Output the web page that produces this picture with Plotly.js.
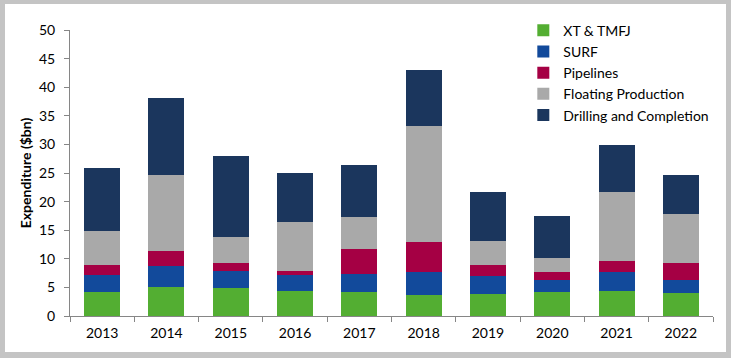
<!DOCTYPE html>
<html>
<head>
<meta charset="utf-8">
<script src="https://cdn.plot.ly/plotly-3.0.1.min.js"></script>
<style>
  html, body { margin: 0; padding: 0; background: #c4c4c4; width: 731px; height: 358px; overflow: hidden; }
  #chart { position: absolute; left: 5px; top: 4px; width: 721px; height: 348px; background: #ffffff; }
</style>
</head>
<body>
<div id="chart"></div>
<script>
const years = ["2013", "2014", "2015", "2016", "2017", "2018", "2019", "2020", "2021", "2022"];
const xtTmfj = [4.2, 5.05, 4.9, 4.4, 4.2, 3.65, 3.85, 4.2, 4.35, 4.0];
const surf = [2.95, 3.7, 2.95, 2.75, 3.2, 4.05, 3.2, 2.15, 3.3, 2.3];
const pipelines = [1.75, 2.55, 1.45, 0.7, 4.3, 5.2, 1.85, 1.35, 1.9, 2.9];
const floatingProduction = [5.9, 13.4, 4.45, 8.55, 5.6, 20.4, 4.2, 2.45, 12.2, 8.7];
const drillingCompletion = [11.0, 13.4, 14.3, 8.55, 9.05, 9.75, 8.55, 7.3, 8.2, 6.8];
const yTicks = [0, 5, 10, 15, 20, 25, 30, 35, 40, 45, 50];

const seriesNames = ["XT & TMFJ", "SURF", "Pipelines", "Floating Production", "Drilling and Completion"];
const seriesValues = [xtTmfj, surf, pipelines, floatingProduction, drillingCompletion];
const seriesColors = ["#53ae32", "#124a9b", "#a50044", "#a9a9a9", "#1b365d"];

const data = seriesNames.map((name, i) => ({
  type: "bar",
  name: name,
  x: years,
  y: seriesValues[i],
  marker: { color: seriesColors[i], line: { width: 0 } },
  hoverinfo: "x+y+name"
}));

const axisColor = "#868686";
const font = { family: "Lato, 'Open Sans', sans-serif", size: 14, color: "#000000" };

const layout = {
  width: 721,
  height: 348,
  margin: { l: 65, r: 13, t: 25, b: 36 },
  paper_bgcolor: "#ffffff",
  plot_bgcolor: "#ffffff",
  barmode: "stack",
  bargap: 0.44,
  font: font,
  showlegend: true,
  legend: {
    traceorder: "normal",
    x: 0.705,
    y: 1.05,
    xanchor: "left",
    yanchor: "top",
    bgcolor: "rgba(0,0,0,0)",
    font: { family: font.family, size: 14, color: "#000000" },
    itemwidth: 30
  },
  xaxis: {
    type: "category",
    showline: true,
    linecolor: axisColor,
    linewidth: 1,
    ticks: "outside",
    tickson: "boundaries",
    ticklen: 5,
    tickcolor: axisColor,
    showgrid: false,
    zeroline: false,
    ticklabelstandoff: 4,
    tickfont: { family: font.family, size: 14, color: "#000000" }
  },
  yaxis: {
    range: [0, 50],
    tickvals: yTicks,
    showline: true,
    linecolor: axisColor,
    linewidth: 1,
    ticks: "outside",
    ticklen: 5,
    tickcolor: axisColor,
    showgrid: false,
    zeroline: false,
    ticklabelstandoff: 6,
    tickfont: { family: font.family, size: 14, color: "#000000" },
    title: { text: "Expenditure ($bn)", font: { family: font.family, size: 14, color: "#000000", weight: "bold" }, standoff: 4 }
  }
};

Plotly.newPlot("chart", data, layout, { displayModeBar: false, staticPlot: true });
</script>
</body>
</html>
